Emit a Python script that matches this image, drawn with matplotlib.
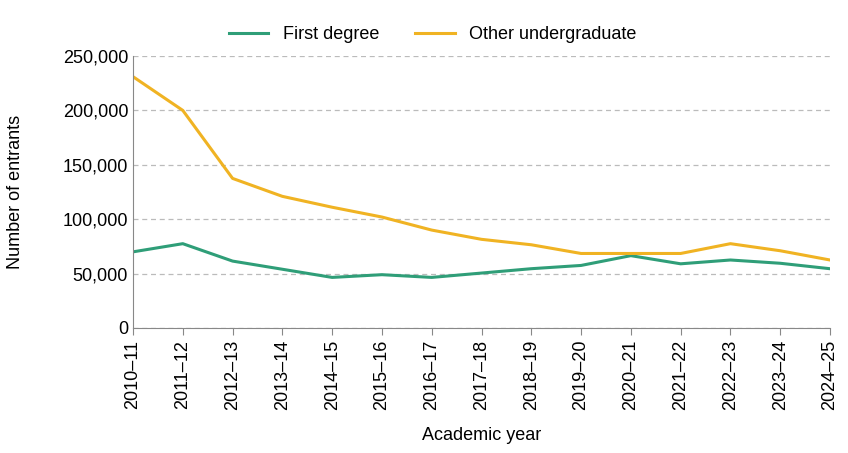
import matplotlib
matplotlib.use("Agg")
import matplotlib.pyplot as plt
from matplotlib.ticker import FuncFormatter

plt.rcParams["font.family"] = ["Liberation Sans", "DejaVu Sans"]

years = ["2010\u201311", "2011\u201312", "2012\u201313", "2013\u201314", "2014\u201315",
         "2015\u201316", "2016\u201317", "2017\u201318", "2018\u201319", "2019\u201320",
         "2020\u201321", "2021\u201322", "2022\u201323", "2023\u201324", "2024\u201325"]
first_degree = [70000, 77500, 61500, 54000, 46500, 49000, 46500, 50500, 54500,
                57500, 66500, 59000, 62500, 59500, 54500]
other_ug = [231000, 200000, 137500, 121000, 111000, 102000, 90000, 81500, 76500,
            68500, 68500, 68500, 77500, 71000, 62500]

fig = plt.figure(figsize=(8.48, 4.53), dpi=100)
ax = fig.add_axes([133 / 848, 1 - 328 / 453, 697 / 848, 272 / 453])

x = range(len(years))
ax.plot(x, first_degree, color="#2f9e78", lw=2.2, label="First degree")
ax.plot(x, other_ug, color="#f0b323", lw=2.2, label="Other undergraduate")

ax.set_xlim(0, len(years) - 1)
ax.set_ylim(0, 250000)
ax.set_yticks(range(0, 250001, 50000))
ax.yaxis.set_major_formatter(FuncFormatter(lambda v, p: f"{int(v):,}"))
ax.set_xticks(list(x))
ax.set_xticklabels(years, rotation=90)
ax.tick_params(labelsize=13, length=0)
ax.tick_params(axis="x", length=5, color="#888888")
ax.grid(axis="y", ls=(0, (4, 3)), color="#bbbbbb", lw=0.9)
for s in ["top", "right"]:
    ax.spines[s].set_visible(False)
ax.spines["left"].set_color("#888888")
ax.spines["bottom"].set_color("#888888")
ax.set_ylabel("Number of entrants", fontsize=13, labelpad=28)
ax.set_xlabel("Academic year", fontsize=13, labelpad=12)
ax.legend(loc="lower center", bbox_to_anchor=(0.43, 1.0), ncol=2, frameon=False,
          fontsize=13, handlelength=2.2, borderaxespad=0.3)

fig.savefig("out.png", dpi=100)
